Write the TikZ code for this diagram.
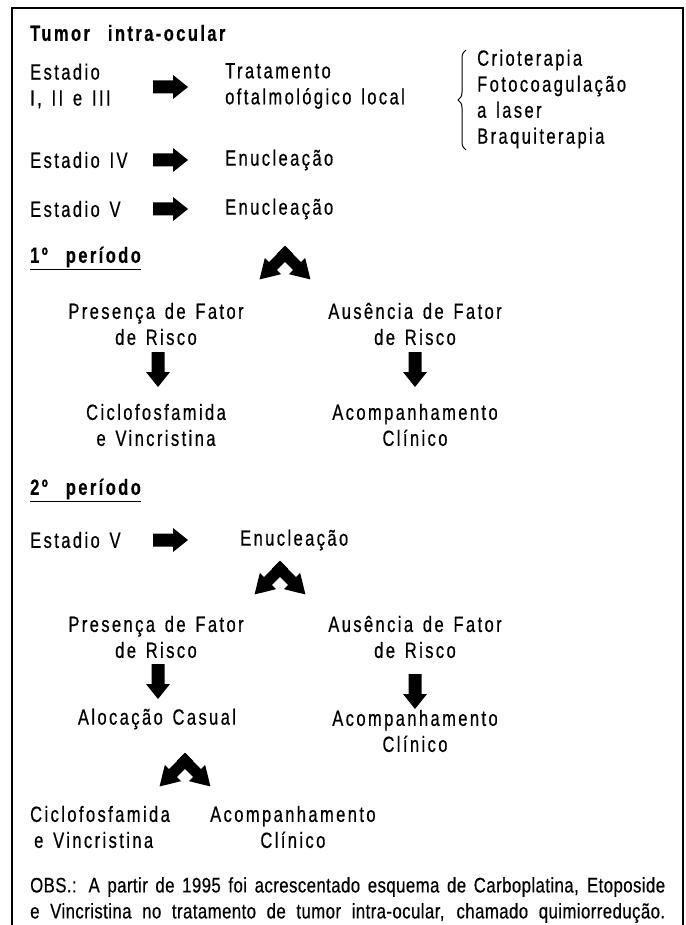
\documentclass[tikz,border=0pt]{standalone}
\usepackage{fontspec}
\setmainfont[FakeStretch=0.75,LetterSpace=11,WordSpace=1.4,FakeBold=0.6]{Liberation Sans}
\newfontfamily\obsfont[FakeStretch=0.8,LetterSpace=2,FakeBold=0.5]{Liberation Sans}
\usetikzlibrary{decorations.pathreplacing}

\tikzset{
  main/.style={inner sep=0pt, anchor=west, align=left, font=\fontsize{22}{26}\selectfont},
  mid/.style={main, anchor=center, align=center},
  head/.style={main, font=\fontsize{22}{26}\selectfont\bfseries},
  obs/.style={inner sep=0pt, anchor=west, font=\fontsize{21}{26}\selectfont\obsfont},
  fatarrow/.pic={\fill (0,-6.5) -- (20,-6.5) -- (20,-12) -- (35,0) -- (20,12) -- (20,6.5) -- (0,6.5) -- cycle;},
  arm/.pic={\fill (-6,-5.5) -- (17,-5.5) -- (17,-11.5) -- (36,0) -- (17,11.5) -- (17,5.5) -- (-6,5.5) -- cycle;},
  splitarrow/.pic={\pic[rotate=-135] {arm}; \pic[rotate=-45] {arm};}
}

\begin{document}
\begin{tikzpicture}[x=1pt, y=-1pt]
\useasboundingbox (0,0) rectangle (685,925);
\clip (0,0) rectangle (685,925);
\draw[line width=1.5pt] (12,940) -- (12,8) -- (683,8) -- (683,940);

% tumor intra-ocular
\node[head] (title) at (30,33) {Tumor\hspace{18pt}intra-ocular};
\node[main] (est1) at (30,86) {Estadio\\I, II e III};
\pic (a1) at (153,87) {fatarrow};
\node[main] (trat) at (225,86) {Tratamento\\oftalmológico local};
\coordinate (bbot) at (466,150);
\coordinate (btop) at (466,50);
\draw[line width=1pt, decorate, decoration={brace, amplitude=8pt}] (bbot) -- (btop);
\node[main] (crio) at (477,99) {Crioterapia\\Fotocoagulação\\a laser\\Braquiterapia};
\node[main] (est4) at (30,160) {Estadio IV};
\pic (a2) at (153,160) {fatarrow};
\node[main] (enuc4) at (225,160) {Enucleação};
\node[main] (est5) at (30,209) {Estadio V};
\pic (a3) at (153,209) {fatarrow};
\node[main] (enuc5) at (225,209) {Enucleação};

% 1o periodo
\node[head] (p1) at (30,258) {\underline{1º\hspace{18pt}período}};
\pic (s1) at (285,254) {splitarrow};
\node[mid] (pres1) at (156,324) {Presença de Fator\\de Risco};
\node[mid] (aus1) at (415,324) {Ausência de Fator\\de Risco};
\pic[rotate=-90] (d1) at (158,352) {fatarrow};
\pic[rotate=-90] (d2) at (415,352) {fatarrow};
\node[mid] (cic1) at (156,425) {Ciclofosfamida\\e Vincristina};
\node[mid] (acomp1) at (415,425) {Acompanhamento\\Clínico};

% 2o periodo
\node[head] (p2) at (30,490) {\underline{2º\hspace{18pt}período}};
\node[main] (est5b) at (30,540) {Estadio V};
\pic (a4) at (153,540) {fatarrow};
\node[main] (enuc5b) at (240,540) {Enucleação};
\pic (s2) at (280,569) {splitarrow};
\node[mid] (pres2) at (156,637) {Presença de Fator\\de Risco};
\node[mid] (aus2) at (415,637) {Ausência de Fator\\de Risco};
\pic[rotate=-90] (d3) at (158,664) {fatarrow};
\pic[rotate=-90] (d4) at (415,674) {fatarrow};
\node[mid] (aloc) at (157,719) {Alocação Casual};
\node[mid] (acomp2) at (415,731) {Acompanhamento\\Clínico};
\pic (s3) at (185,761) {splitarrow};
\node[main] (cic2) at (30,827) {Ciclofosfamida\\\hspace{4pt}e Vincristina};
\node[main, align=center] (acomp3) at (210,827) {Acompanhamento\\Clínico};

% obs
\node[obs] (obs1) at (30,887) {\makebox[635pt][s]{OBS.: A partir de 1995 foi acrescentado esquema de Carboplatina, Etoposide}};
\node[obs] (obs2) at (30,913) {\makebox[635pt][s]{e Vincristina no tratamento de tumor intra-ocular, chamado quimiorredução.}};
\end{tikzpicture}
\end{document}
